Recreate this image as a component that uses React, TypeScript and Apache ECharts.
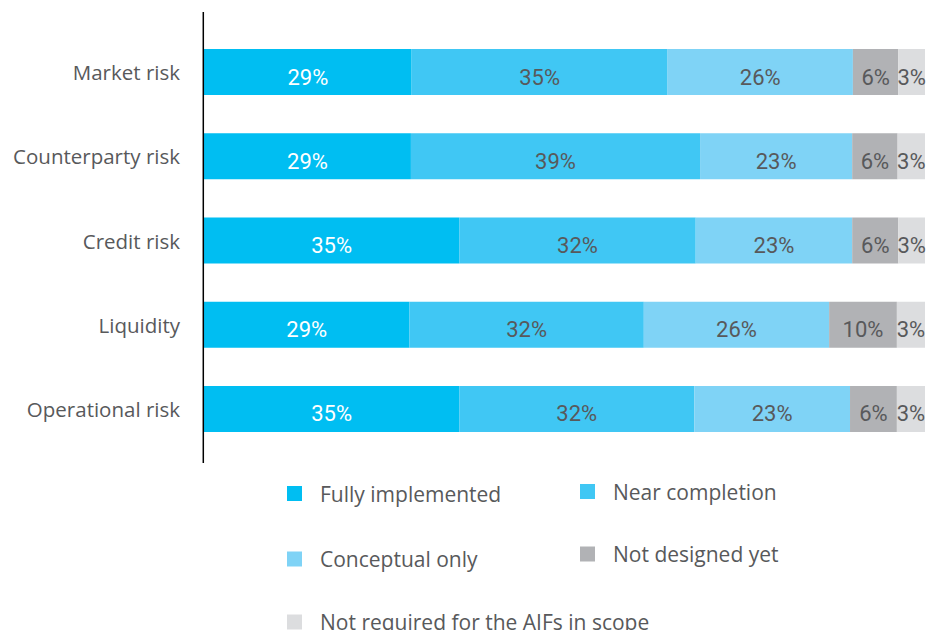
import React, { useEffect, useRef } from "react";
import * as echarts from "echarts";

const categories = ["Market risk", "Counterparty risk", "Credit risk", "Liquidity", "Operational risk"];

const seriesNames = [
  "Fully implemented",
  "Near completion",
  "Conceptual only",
  "Not designed yet",
  "Not required for the AIFs in scope",
];

// drawn share of each bar (percent of bar length)
const fullyImplemented = [28.8, 28.7, 35.4, 28.5, 35.4];
const nearCompletion = [35.5, 40.1, 32.8, 32.5, 32.6];
const conceptualOnly = [25.7, 21.1, 21.7, 25.7, 21.6];
const notDesignedYet = [6.3, 6.3, 6.4, 9.4, 6.5];
const notRequired = [3.7, 3.8, 3.7, 3.9, 3.9];

// printed labels
const fullyImplementedLabels = [29, 29, 35, 29, 35];
const nearCompletionLabels = [35, 39, 32, 32, 32];
const conceptualOnlyLabels = [26, 23, 23, 26, 23];
const notDesignedYetLabels = [6, 6, 6, 10, 6];
const notRequiredLabels = [3, 3, 3, 3, 3];

const values = [fullyImplemented, nearCompletion, conceptualOnly, notDesignedYet, notRequired];
const labels = [fullyImplementedLabels, nearCompletionLabels, conceptualOnlyLabels, notDesignedYetLabels, notRequiredLabels];
const colors = ["#00BEF2", "#40C7F4", "#7FD3F6", "#B1B2B5", "#DCDDDF"];
const labelColors = ["#FFFFFF", "#58595B", "#58595B", "#58595B", "#58595B"];

// legend placement (one legend box per item)
const legendLeft = [287, 580, 287, 580, 287];
const legendTop = [483, 481, 548.5, 543.5, 611.5];

export default function App() {
  const ref = useRef<HTMLDivElement>(null);
  useEffect(() => {
    if (!ref.current) return;
    const chart = echarts.init(ref.current, undefined, { renderer: "svg" });
    const legendText = {
      fontFamily: "Open Sans",
      fontSize: 21,
      lineHeight: 20,
      color: "#58595B",
      padding: [0, 0, 0, 13],
    };
    chart.setOption({
      animation: false,
      backgroundColor: "#FFFFFF",
      grid: { left: 204, right: 5, top: 29.9, bottom: 178.9, containLabel: false },
      xAxis: { type: "value", min: 0, max: 100, show: false },
      yAxis: {
        type: "category",
        data: categories,
        inverse: true,
        axisLine: { show: false },
        axisTick: { show: false },
        axisLabel: {
          margin: 24,
          fontFamily: "Open Sans",
          fontSize: 20.5,
          color: "#58595B",
        },
      },
      legend: seriesNames.map((name, i) => ({
        data: [name],
        orient: "horizontal",
        left: legendLeft[i],
        top: legendTop[i],
        padding: 0,
        itemWidth: 15,
        itemHeight: 15,
        icon: "rect",
        selectedMode: false,
        textStyle: legendText,
      })),
      graphic: [
        {
          type: "line",
          shape: { x1: 203.3, y1: 12, x2: 203.3, y2: 463 },
          style: { stroke: "#000000", lineWidth: 1.5 },
          z: 10,
        },
      ],
      series: seriesNames.map((name, i) => ({
        name,
        type: "bar",
        stack: "total",
        barWidth: 46,
        itemStyle: { color: colors[i] },
        label: {
          show: true,
          position: "inside",
          offset: [0, 5],
          formatter: (p: any) => labels[i][p.dataIndex] + "%",
          fontFamily: "Roboto",
          fontSize: 22,
          color: labelColors[i],
        },
        data: values[i],
      })),
    });
    return () => chart.dispose();
  }, []);
  return (
    <div
      ref={ref}
      style={{ position: "fixed", left: 0, top: 0, width: 930, height: 630 }}
    />
  );
}
